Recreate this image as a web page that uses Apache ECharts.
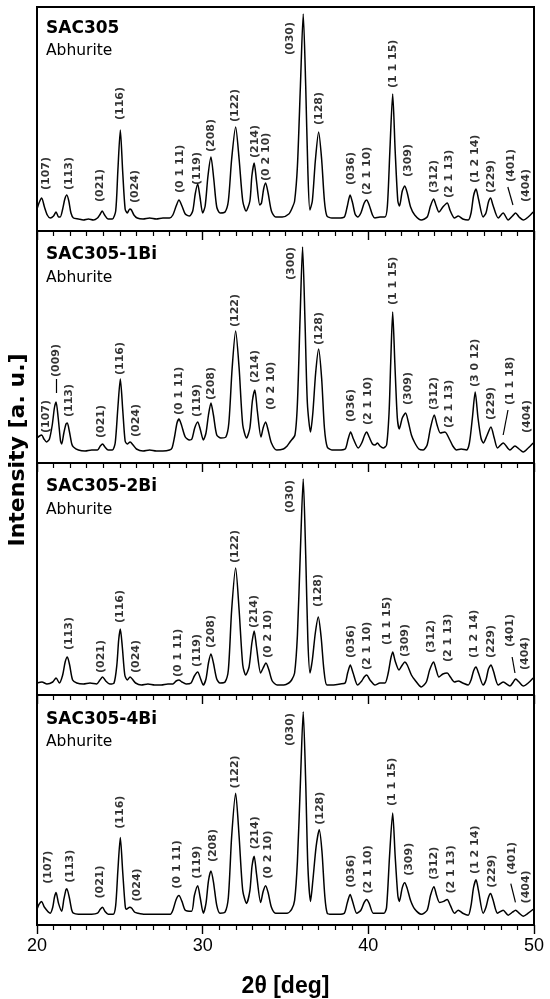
<!DOCTYPE html>
<html>
<head>
<meta charset="utf-8">
<script src="https://cdn.jsdelivr.net/npm/echarts@6/dist/echarts.min.js"></script>
<style>
  html, body { margin: 0; padding: 0; background: #fff; }
  #xrd { width: 550px; height: 999px; }
</style>
</head>
<body>
<div id="xrd"></div>
<script>
// XRD patterns, 2theta 20-50 deg, intensity (arb. units)
var panelNames = ['SAC305', 'SAC305-1Bi', 'SAC305-2Bi', 'SAC305-4Bi'];
var phaseName = 'Abhurite';
var xTickLabels = [20, 30, 40, 50];

var profileSAC305 = [
  [20.00, 22], [20.12, 28], [20.28, 33], [20.45, 24], [20.62, 16], [20.80, 13], [21.00, 15], [21.15, 19],
  [21.30, 14], [21.40, 14], [21.55, 22], [21.68, 32], [21.80, 36], [21.92, 30], [22.05, 18], [22.20, 13],
  [22.50, 12], [22.80, 11], [23.10, 12], [23.40, 11], [23.65, 13], [23.82, 17], [23.94, 20], [24.08, 16],
  [24.30, 12], [24.55, 12], [24.75, 20], [24.88, 60], [25.03, 101], [25.17, 60], [25.32, 22], [25.45, 18],
  [25.60, 22], [25.70, 21], [25.85, 16], [26.05, 13], [26.40, 12], [26.80, 13], [27.20, 12], [27.60, 13],
  [28.00, 13], [28.20, 16], [28.40, 25], [28.57, 31], [28.75, 25], [28.95, 17], [29.20, 15], [29.40, 20],
  [29.55, 37], [29.70, 47], [29.83, 35], [30.00, 18], [30.15, 25], [30.32, 55], [30.50, 74], [30.67, 52],
  [30.85, 24], [31.05, 18], [31.35, 19], [31.55, 30], [31.75, 72], [31.99, 104], [32.20, 72], [32.42, 30],
  [32.62, 20], [32.85, 30], [32.97, 55], [33.11, 68], [33.25, 50], [33.45, 26], [33.55, 28], [33.68, 42],
  [33.80, 48], [33.95, 38], [34.15, 20], [34.40, 14], [34.80, 14], [35.20, 17], [35.40, 23], [35.55, 30],
  [35.72, 65], [35.90, 145], [36.07, 217], [36.22, 145], [36.35, 60], [36.47, 21], [36.62, 30], [36.80, 70],
  [37.00, 99], [37.18, 72], [37.35, 30], [37.50, 15], [37.80, 13], [38.20, 13], [38.55, 14], [38.72, 24],
  [38.90, 36], [39.05, 28], [39.20, 17], [39.35, 14], [39.55, 18], [39.75, 28], [39.90, 31], [40.05, 26],
  [40.25, 16], [40.40, 13], [40.70, 14], [41.00, 14], [41.15, 25], [41.30, 80], [41.47, 137], [41.62, 80],
  [41.78, 30], [41.88, 25], [42.05, 40], [42.20, 45], [42.35, 38], [42.55, 24], [42.80, 16], [43.20, 11],
  [43.55, 14], [43.75, 25], [43.94, 32], [44.10, 25], [44.26, 19], [44.50, 24], [44.76, 28], [44.95, 20],
  [45.20, 13], [45.43, 15], [45.70, 12], [46.03, 11], [46.20, 18], [46.35, 35], [46.50, 42], [46.65, 32],
  [46.93, 14], [47.10, 18], [47.25, 29], [47.38, 33], [47.52, 26], [47.84, 13], [48.14, 18], [48.44, 11],
  [48.70, 15], [48.89, 18], [49.10, 14], [49.35, 11], [49.65, 14], [49.95, 19]
];

var profile1Bi = [
  [20.00, 25], [20.15, 27], [20.28, 28], [20.42, 24], [20.58, 21], [20.75, 24], [20.92, 38], [21.05, 55],
  [21.15, 61], [21.28, 45], [21.42, 22], [21.49, 19], [21.62, 30], [21.75, 39], [21.83, 40], [21.95, 32],
  [22.10, 19], [22.20, 16], [22.50, 13], [22.90, 12], [23.30, 13], [23.65, 13], [23.82, 17], [23.96, 19],
  [24.10, 16], [24.30, 13], [24.55, 13], [24.72, 20], [24.88, 55], [25.03, 84], [25.18, 52], [25.32, 22],
  [25.45, 19], [25.62, 21], [25.80, 18], [26.00, 14], [26.40, 12], [26.80, 13], [27.20, 12], [27.60, 12],
  [28.00, 13], [28.15, 15], [28.30, 26], [28.45, 40], [28.57, 44], [28.72, 38], [28.95, 26], [29.20, 23],
  [29.35, 24], [29.52, 35], [29.70, 41], [29.85, 34], [30.04, 23], [30.20, 30], [30.35, 48], [30.50, 60],
  [30.65, 48], [30.85, 28], [31.10, 25], [31.40, 26], [31.58, 40], [31.78, 95], [31.99, 132], [32.20, 95],
  [32.42, 38], [32.65, 25], [32.85, 35], [33.00, 62], [33.15, 73], [33.30, 52], [33.52, 26], [33.65, 35],
  [33.80, 41], [33.95, 33], [34.15, 20], [34.47, 13], [34.87, 14], [35.10, 17], [35.27, 21], [35.57, 28],
  [35.72, 60], [35.88, 145], [36.03, 216], [36.18, 140], [36.32, 60], [36.51, 31], [36.65, 50], [36.82, 90],
  [37.00, 114], [37.18, 85], [37.35, 35], [37.52, 16], [37.80, 13], [38.20, 13], [38.60, 14], [38.78, 24],
  [38.93, 31], [39.10, 24], [39.39, 15], [39.60, 20], [39.78, 28], [39.90, 31], [40.05, 26], [40.25, 19],
  [40.40, 18], [40.55, 20], [40.70, 17], [40.90, 15], [41.10, 18], [41.25, 50], [41.35, 100], [41.47, 151],
  [41.60, 100], [41.75, 45], [41.87, 34], [42.05, 45], [42.25, 50], [42.40, 42], [42.60, 28], [42.81, 20],
  [43.05, 14], [43.31, 13], [43.55, 18], [43.75, 35], [43.98, 48], [44.15, 38], [44.35, 30], [44.62, 31],
  [44.92, 23], [45.10, 17], [45.32, 13], [45.60, 14], [45.92, 13], [46.10, 20], [46.28, 45], [46.45, 71],
  [46.62, 45], [46.80, 25], [46.94, 20], [47.15, 27], [47.40, 36], [47.60, 25], [47.80, 15], [48.14, 20],
  [48.55, 13], [48.85, 17], [49.10, 14], [49.35, 11], [49.65, 15], [49.95, 20]
];

var profile2Bi = [
  [20.00, 12], [20.30, 13], [20.60, 11], [20.95, 13], [21.15, 17], [21.35, 12], [21.55, 20], [21.70, 33],
  [21.83, 38], [21.97, 30], [22.15, 15], [22.40, 12], [22.80, 11], [23.20, 12], [23.60, 11], [23.80, 15],
  [23.96, 18], [24.15, 14], [24.40, 11], [24.65, 12], [24.82, 30], [24.93, 55], [25.03, 66], [25.15, 48],
  [25.30, 20], [25.45, 15], [25.62, 18], [25.75, 16], [25.95, 12], [26.30, 10], [26.70, 11], [27.10, 10],
  [27.50, 10], [27.90, 11], [28.20, 11], [28.40, 14], [28.57, 15], [28.75, 13], [29.00, 11], [29.30, 12],
  [29.50, 19], [29.70, 23], [29.88, 16], [30.04, 10], [30.20, 16], [30.35, 32], [30.50, 41], [30.65, 32],
  [30.85, 16], [31.05, 12], [31.35, 13], [31.55, 25], [31.75, 85], [31.99, 127], [32.20, 85], [32.42, 30],
  [32.60, 20], [32.80, 28], [32.97, 52], [33.11, 64], [33.25, 48], [33.50, 22], [33.65, 27], [33.82, 32],
  [34.00, 25], [34.20, 14], [34.50, 10], [34.90, 10], [35.20, 12], [35.37, 15], [35.55, 22], [35.72, 60],
  [35.90, 145], [36.07, 216], [36.22, 140], [36.35, 55], [36.48, 22], [36.62, 35], [36.80, 62], [36.98, 78],
  [37.15, 58], [37.32, 25], [37.50, 10], [37.90, 10], [38.30, 11], [38.60, 12], [38.75, 22], [38.91, 30],
  [39.08, 22], [39.35, 10], [39.60, 14], [39.75, 18], [39.90, 20], [40.10, 15], [40.40, 10], [40.70, 12],
  [41.00, 12], [41.20, 22], [41.35, 36], [41.47, 43], [41.62, 34], [41.85, 25], [42.05, 30], [42.20, 33],
  [42.35, 30], [42.60, 20], [42.81, 15], [43.20, 8], [43.50, 13], [43.70, 25], [43.94, 33], [44.10, 25],
  [44.26, 18], [44.50, 21], [44.76, 22], [44.95, 18], [45.20, 13], [45.43, 14], [45.70, 12], [46.03, 10],
  [46.20, 15], [46.35, 24], [46.50, 28], [46.65, 22], [46.93, 10], [47.10, 15], [47.25, 26], [47.40, 30],
  [47.55, 24], [47.84, 10], [48.14, 13], [48.55, 9], [48.75, 13], [48.89, 16], [49.10, 13], [49.35, 9],
  [49.65, 12], [49.95, 17]
];

var profile4Bi = [
  [20.00, 16], [20.12, 21], [20.28, 24], [20.45, 18], [20.80, 12], [20.95, 18], [21.05, 28], [21.15, 33],
  [21.30, 22], [21.49, 14], [21.62, 26], [21.75, 36], [21.80, 37], [21.95, 28], [22.10, 15], [22.20, 12],
  [22.50, 11], [22.90, 11], [23.30, 11], [23.65, 12], [23.82, 16], [23.96, 18], [24.10, 14], [24.30, 11],
  [24.60, 11], [24.75, 20], [24.88, 55], [25.03, 89], [25.17, 55], [25.32, 20], [25.40, 16], [25.60, 18],
  [25.72, 17], [25.90, 13], [26.10, 12], [26.50, 11], [26.90, 11], [27.30, 11], [27.70, 11], [28.05, 11],
  [28.20, 15], [28.40, 26], [28.57, 30], [28.75, 24], [28.95, 15], [29.33, 14], [29.50, 30], [29.70, 40],
  [29.85, 28], [30.04, 12], [30.20, 22], [30.35, 45], [30.50, 55], [30.65, 44], [30.85, 20], [31.05, 12],
  [31.35, 13], [31.55, 28], [31.75, 90], [31.99, 134], [32.20, 90], [32.42, 35], [32.65, 22], [32.85, 35],
  [32.98, 60], [33.11, 70], [33.25, 52], [33.50, 23], [33.65, 34], [33.80, 40], [33.95, 33], [34.15, 18],
  [34.40, 12], [34.80, 12], [35.10, 12], [35.37, 16], [35.55, 25], [35.72, 65], [35.90, 145], [36.07, 217],
  [36.22, 145], [36.35, 60], [36.51, 24], [36.65, 45], [36.85, 80], [37.04, 97], [37.20, 75], [37.37, 30],
  [37.52, 12], [37.80, 11], [38.20, 11], [38.55, 12], [38.72, 22], [38.90, 31], [39.05, 24], [39.30, 12],
  [39.55, 15], [39.75, 23], [39.90, 26], [40.05, 22], [40.30, 12], [40.60, 12], [40.95, 12], [41.10, 18],
  [41.28, 70], [41.47, 114], [41.62, 70], [41.78, 30], [41.87, 24], [42.05, 38], [42.20, 43], [42.35, 37],
  [42.55, 25], [42.81, 16], [43.20, 11], [43.55, 15], [43.75, 30], [43.96, 39], [44.12, 30], [44.30, 23],
  [44.55, 24], [44.76, 26], [44.95, 20], [45.20, 12], [45.43, 15], [45.70, 12], [46.03, 10], [46.20, 20],
  [46.35, 38], [46.50, 46], [46.65, 35], [46.93, 12], [47.10, 18], [47.25, 28], [47.38, 32], [47.52, 26],
  [47.80, 12], [48.14, 15], [48.44, 10], [48.70, 13], [48.89, 15], [49.10, 12], [49.35, 9], [49.65, 12],
  [49.95, 16]
];

// peak labels: [2theta, intensity at the foot of the label, hkl]
var peaksSAC305 = [
  [20.58, 41, '(107)'], [21.93, 41, '(113)'], [23.80, 29, '(021)'], [25.00, 111, '(116)'], [25.90, 28, '(024)'],
  [28.63, 38, '(0 1 11)'], [29.67, 46, '(119)'], [30.50, 79, '(208)'], [31.99, 109, '(122)'], [33.15, 73, '(214)'],
  [33.86, 50, '(0 2 10)'], [35.27, 176, '(030)'], [37.04, 106, '(128)'], [38.95, 46, '(036)'], [39.90, 36, '(2 1 10)'],
  [41.50, 143, '(1 1 15)'], [42.41, 54, '(309)'], [43.98, 38, '(312)'], [44.88, 33, '(2 1 13)'], [46.43, 48, '(1 2 14)'],
  [47.44, 38, '(229)'], [48.60, 49, '(401)'], [49.55, 29, '(404)']
];
var peaks1Bi = [
  [20.58, 30, '(107)'], [21.15, 86, '(009)'], [21.93, 46, '(113)'], [23.86, 25, '(021)'], [25.00, 88, '(116)'],
  [25.96, 26, '(024)'], [28.57, 48, '(0 1 11)'], [29.67, 46, '(119)'], [30.50, 63, '(208)'], [31.99, 136, '(122)'],
  [33.15, 80, '(214)'], [34.16, 53, '(0 2 10)'], [35.37, 183, '(300)'], [37.04, 118, '(128)'], [38.95, 41, '(036)'],
  [39.96, 38, '(2 1 10)'], [41.50, 158, '(1 1 15)'], [42.41, 58, '(309)'], [43.98, 53, '(312)'], [44.88, 35, '(2 1 13)'],
  [46.43, 76, '(3 0 12)'], [47.44, 43, '(229)'], [48.55, 58, '(1 1 18)'], [49.60, 30, '(404)']
];
var peaks2Bi = [
  [21.93, 45, '(113)'], [23.86, 22, '(021)'], [25.00, 72, '(116)'], [25.96, 22, '(024)'], [28.53, 18, '(0 1 11)'],
  [29.64, 28, '(119)'], [30.50, 47, '(208)'], [31.99, 132, '(122)'], [33.11, 67, '(214)'], [33.96, 37, '(0 2 10)'],
  [35.27, 182, '(030)'], [36.98, 88, '(128)'], [38.95, 37, '(036)'], [39.90, 25, '(2 1 10)'], [41.16, 50, '(1 1 15)'],
  [42.25, 38, '(309)'], [43.82, 42, '(312)'], [44.82, 33, '(2 1 13)'], [46.39, 37, '(1 2 14)'], [47.44, 37, '(229)'],
  [48.55, 48, '(401)'], [49.45, 25, '(404)']
];
var peaks4Bi = [
  [20.68, 42, '(107)'], [21.99, 43, '(113)'], [23.80, 27, '(021)'], [25.00, 98, '(116)'], [26.02, 24, '(024)'],
  [28.47, 37, '(0 1 11)'], [29.67, 47, '(119)'], [30.64, 64, '(208)'], [31.99, 139, '(122)'], [33.15, 77, '(214)'],
  [33.96, 47, '(0 2 10)'], [35.27, 182, '(030)'], [37.08, 102, '(128)'], [38.95, 38, '(036)'], [40.00, 32, '(2 1 10)'],
  [41.45, 121, '(1 1 15)'], [42.45, 50, '(309)'], [43.98, 46, '(312)'], [44.97, 32, '(2 1 13)'], [46.43, 52, '(1 2 14)'],
  [47.48, 38, '(229)'], [48.69, 51, '(401)'], [49.55, 22, '(404)']
];

// leader lines from a label to its peak
var leadersSAC305 = [[[48.42, 44], [48.73, 26]]];
var leaders1Bi = [[[21.15, 84], [21.15, 70]], [[48.43, 53], [48.14, 28]]];
var leaders2Bi = [[[48.68, 38], [48.85, 22]]];
var leaders4Bi = [[[48.60, 42], [48.88, 23]]];

var profiles = [profileSAC305, profile1Bi, profile2Bi, profile4Bi];
var peaks = [peaksSAC305, peaks1Bi, peaks2Bi, peaks4Bi];
var leaders = [leadersSAC305, leaders1Bi, leaders2Bi, leaders4Bi];

// layout (pixels)
var panelTop = [7, 231, 463, 695];
var panelHeight = [224, 232, 232, 234];
var titleOffset = [[22, 44], [24, 47], [24, 47], [25, 47]];

var chart = echarts.init(document.getElementById('xrd'));

var grids = [], xAxes = [], yAxes = [], series = [], graphics = [];
for (var i = 0; i < 4; i++) {
    var last = (i === 3);
    grids.push({
        left: 37, right: 16, top: panelTop[i], height: panelHeight[i],
        show: true, borderColor: '#000', borderWidth: 2, backgroundColor: 'transparent'
    });
    xAxes.push({
        gridIndex: i, type: 'value', min: 20, max: 50, interval: 10,
        axisLine: { show: true, lineStyle: { color: '#000', width: 2 } },
        axisTick: { show: true, inside: false, length: 9, lineStyle: { color: '#000', width: 1.4 } },
        minorTick: { show: true, splitNumber: 10, length: 5, lineStyle: { color: '#000', width: 1.2 } },
        splitLine: { show: false },
        axisLabel: {
            show: last, margin: 12, color: '#000', fontSize: 18, fontFamily: 'Liberation Sans, Arial',
            formatter: function (v) { return xTickLabels.indexOf(v) >= 0 ? String(v) : ''; }
        },
        name: last ? '2θ [deg]' : '', nameLocation: 'middle', nameGap: 50,
        nameTextStyle: { color: '#000', fontSize: 23, fontWeight: 'bold', fontFamily: 'Liberation Sans, Arial' }
    });
    yAxes.push({ gridIndex: i, type: 'value', min: 0, max: panelHeight[i], show: false });

    series.push({
        type: 'line', xAxisIndex: i, yAxisIndex: i, data: profiles[i],
        showSymbol: false, smooth: 0.25, silent: true,
        lineStyle: { color: '#000', width: 1.5 }
    });
    series.push({
        type: 'scatter', xAxisIndex: i, yAxisIndex: i, data: peaks[i],
        symbolSize: 1, itemStyle: { color: 'rgba(0,0,0,0)' }, silent: true,
        label: {
            show: true, position: 'inside', rotate: 90, align: 'left', verticalAlign: 'middle',
            color: '#000', fontFamily: 'DejaVu Sans', fontWeight: 'bold', fontSize: 11,
            formatter: function (p) { return p.data[2]; }
        }
    });
    series.push({
        type: 'lines', coordinateSystem: 'cartesian2d', xAxisIndex: i, yAxisIndex: i, silent: true,
        data: leaders[i].map(function (s) { return { coords: s }; }),
        lineStyle: { color: '#000', width: 1.2, opacity: 1 }
    });

    graphics.push({
        type: 'text', x: 46, y: panelTop[i] + titleOffset[i][0],
        style: { text: panelNames[i], font: 'bold 17px "DejaVu Sans"', fill: '#000',
                 textAlign: 'left', textVerticalAlign: 'middle', align: 'left', verticalAlign: 'middle' }
    });
    graphics.push({
        type: 'text', x: 46, y: panelTop[i] + titleOffset[i][1],
        style: { text: phaseName, font: '15.5px "DejaVu Sans"', fill: '#000',
                 textAlign: 'left', textVerticalAlign: 'middle', align: 'left', verticalAlign: 'middle' }
    });
}

graphics.push({
    type: 'text', x: 18.5, y: 450, rotation: Math.PI / 2,
    style: { text: 'Intensity [a. u.]', font: 'bold 22px "DejaVu Sans"', fill: '#000',
             textAlign: 'center', textVerticalAlign: 'middle', align: 'center', verticalAlign: 'middle' }
});

var option = {
    animation: false,
    backgroundColor: '#fff',
    grid: grids,
    xAxis: xAxes,
    yAxis: yAxes,
    series: series,
    graphic: graphics
};
chart.setOption(option);
</script>
</body>
</html>
